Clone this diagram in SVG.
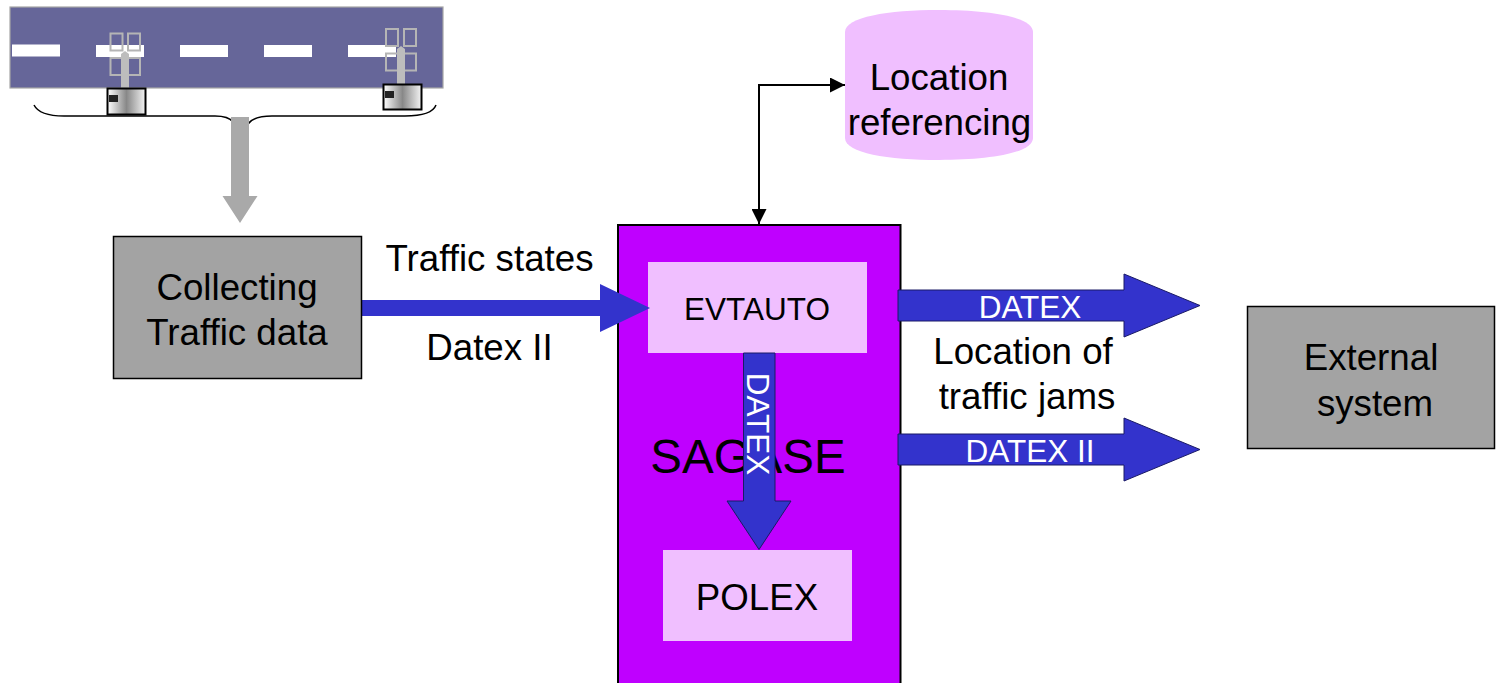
<svg xmlns="http://www.w3.org/2000/svg" width="1497" height="683" viewBox="0 0 1497 683">
<style>
text{font-family:"Liberation Sans",Arial,sans-serif;fill:#000;text-anchor:middle}
.t33{font-size:36.700px}.w{fill:#fff;font-size:31.500px}
.dash{fill:#fff}
.ant{fill:none;stroke:#b5b5b5;stroke-width:2}
.mast{fill:#bdbdbd}
.box{stroke:#000;stroke-width:2;fill:url(#g)}
.grey{fill:#a3a3a3;stroke:#000;stroke-width:1.500}
.pink{fill:#f0bfff}
.blue{fill:#3333cc;stroke:#1a1a66;stroke-width:1}
</style>
<defs>
<linearGradient id="g"><stop offset="0" stop-color="#fff"/><stop offset=".5" stop-color="#888"/><stop offset="1" stop-color="#f4f4f4"/></linearGradient>
<marker id="ah" markerWidth="15" markerHeight="15" refX="15" refY="7.500" orient="auto-start-reverse" markerUnits="userSpaceOnUse"><path d="M0 0L15 7.500L0 15Z" fill="#000"/></marker>
</defs>
<g id="road">
<rect x="10" y="7" width="433" height="81" fill="#666699" stroke="#a6a6a6" stroke-width="1.200"/>
<rect class="dash" x="12" y="44.500" width="48" height="12"/>
<rect class="dash" x="96" y="45" width="48" height="12"/>
<rect class="dash" x="180" y="45" width="48" height="12"/>
<rect class="dash" x="264" y="45" width="48" height="12"/>
<rect class="dash" x="348" y="45" width="48" height="12"/>
</g>
<g id="sensor1">
<rect class="ant" x="110.500" y="33.500" width="12" height="17"/><rect class="ant" x="128" y="33.500" width="12" height="17"/>
<rect class="ant" x="110.500" y="58" width="12" height="17"/><rect class="ant" x="128" y="58" width="12" height="17"/>
<path class="mast" d="M121 88V54L125 51L129 54V88Z"/>
<rect class="box" x="107.500" y="88.500" width="38" height="26"/>
<rect x="109" y="95" width="9" height="7" fill="#222"/>
</g>
<g id="sensor2">
<rect class="ant" x="386" y="29" width="12" height="17"/><rect class="ant" x="404" y="29" width="12" height="17"/>
<rect class="ant" x="386" y="53.500" width="12" height="17"/><rect class="ant" x="404" y="53.500" width="12" height="17"/>
<path class="mast" d="M397 84V49L401 46L405 49V84Z"/>
<rect class="box" x="383.500" y="84.500" width="38" height="25"/>
<rect x="385" y="91" width="9" height="7" fill="#222"/>
</g>
<g id="sagase">
<rect x="618" y="225" width="282.500" height="470" fill="#bf00ff" stroke="#000" stroke-width="2"/>
<text x="748" y="473" style="font-size:47.500px">SAGASE</text>
</g>
<g id="evtauto"><rect class="pink" x="648" y="262" width="219" height="91"/><text x="757" y="320" style="font-size:31.500px">EVTAUTO</text></g>
<g id="polex"><rect class="pink" x="663" y="550" width="189" height="91"/><text x="757" y="610" style="font-size:36.700px">POLEX</text></g>
<g id="connectors">
<path d="M34 105C38 113 50 116 64 116H215C224 116 230 118 233 122M248 124C252 118 262 116 272 116H405C420 116 433 113 436 105" fill="none" stroke="#000" stroke-width="1.500"/>
<path d="M231 117H249V196H257.500L240 223L222.500 196H231Z" fill="#a9a9a9"/>
<path d="M362 300H600V284L650 308L600 332V316H362Z" fill="#3333cc"/>
<path d="M759 224V85H845" fill="none" stroke="#000" stroke-width="2" marker-start="url(#ah)" marker-end="url(#ah)"/>
</g>
<g id="datex-down">
<path class="blue" d="M743.500 353H775V501H791L759 549.500L727 501H743.500Z"/>
<text class="w" transform="translate(747 424) rotate(90)">DATEX</text>
</g>
<g id="datex-1">
<path class="blue" d="M898 290H1124V274L1200 305.500L1124 337V321H898Z"/>
<text class="w" x="1030" y="318">DATEX</text>
</g>
<g id="datex-2">
<path class="blue" d="M898 434H1124V418L1200 449.500L1124 481V465H898Z"/>
<text class="w" x="1030" y="462">DATEX II</text>
</g>
<g id="location">
<path d="M845 32C845 17 888 10 939 10S1033 17 1033 32V138C1033 153 990 160 939 160S845 153 845 138Z" fill="#f0bfff"/>
<text class="t33" x="939" y="90">Location</text><text class="t33" x="939.500" y="135">referencing</text>
</g>
<g id="collecting"><rect class="grey" x="113.500" y="236.500" width="248" height="142"/>
<text class="t33" x="237" y="300">Collecting</text><text class="t33" x="237" y="345">Traffic data</text></g>
<g id="external"><rect class="grey" x="1247.500" y="306.500" width="247" height="142"/>
<text class="t33" x="1371" y="370">External</text><text class="t33" x="1375" y="416">system</text></g>
<g id="labels">
<text class="t33" x="489.500" y="271">Traffic states</text>
<text class="t33" x="489.500" y="360">Datex II</text>
<text class="t33" x="1023" y="364">Location of</text>
<text class="t33" x="1027" y="409">traffic jams</text>
</g>
</svg>
